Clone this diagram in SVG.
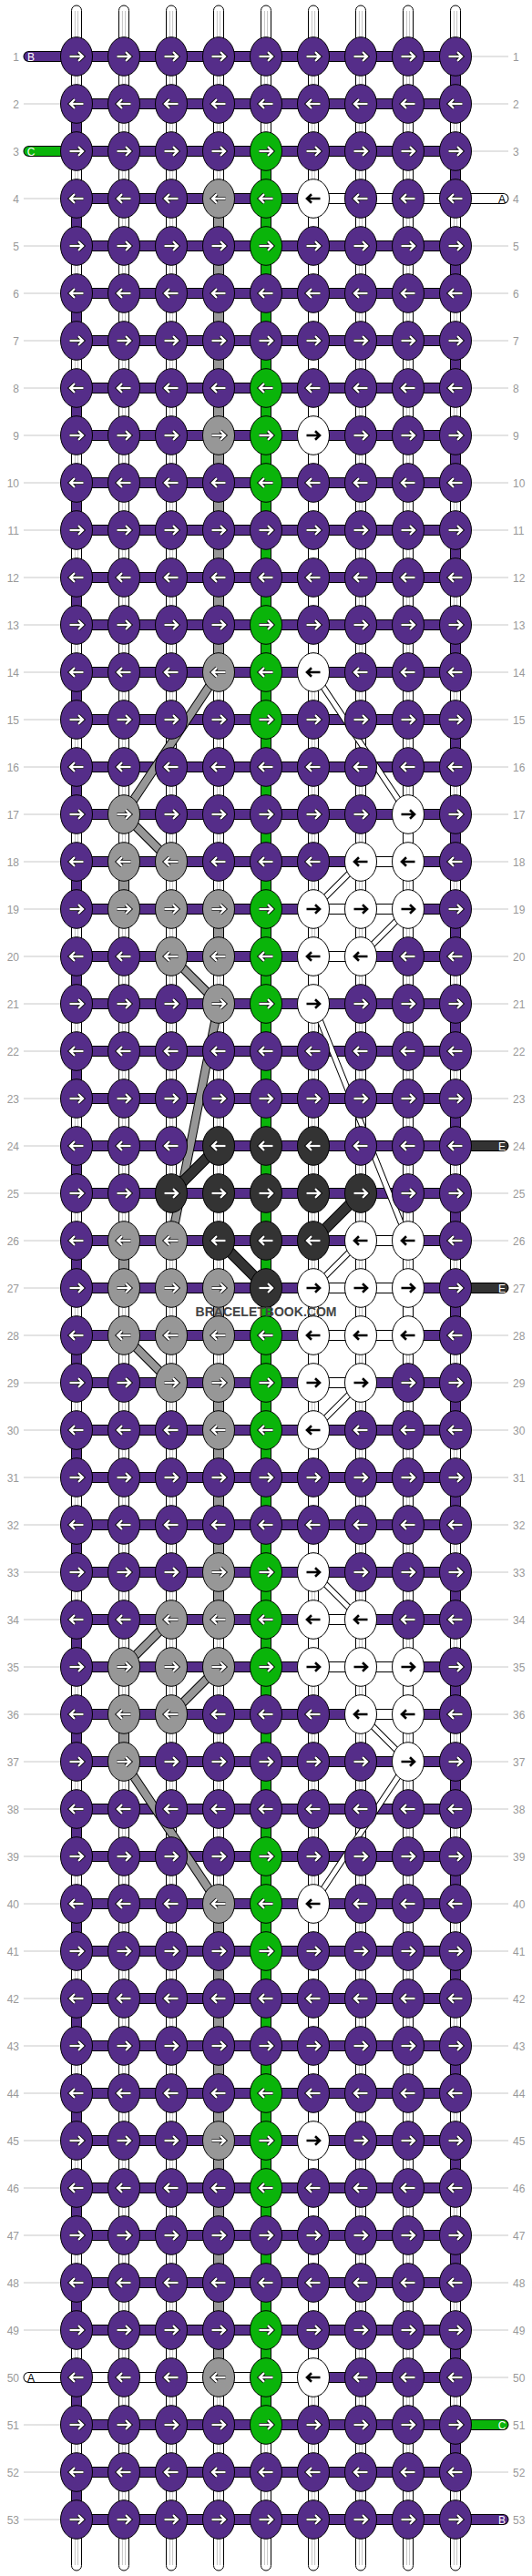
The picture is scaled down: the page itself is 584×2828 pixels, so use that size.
<svg xmlns="http://www.w3.org/2000/svg" xmlns:xlink="http://www.w3.org/1999/xlink" width="584" height="2828" viewBox="0 0 584 2828">
<style>
.lb{font-family:"Liberation Sans",Arial,sans-serif;font-size:12px;fill:#999}
.tl{font-family:"Liberation Sans",Arial,sans-serif;font-size:12px;text-anchor:middle}
.o12{fill:none;stroke:#000;stroke-width:12}
.o12r{fill:none;stroke:#000;stroke-width:12;stroke-linecap:round}
.pu{fill:none;stroke:#552d89;stroke-width:10}
.gn{fill:none;stroke:#0ab40a;stroke-width:10}
.gy{fill:none;stroke:#979797;stroke-width:10}
.wh{fill:none;stroke:#fff;stroke-width:10}
.dk{fill:none;stroke:#333;stroke-width:10}
.rc{stroke-linecap:round}
</style>
<defs>
<path id="a" d="M-7.5,0H6.5M2,-4.8L7,0L2,4.8" fill="none"/>
<g id="aw"><use href="#a" stroke="#000" stroke-width="4.2"/><use href="#a" stroke="#fff" stroke-width="2.4"/></g>
<g id="ab"><use href="#a" stroke="#000" stroke-width="2.6"/></g>
<ellipse id="e" rx="17.5" ry="21.3" stroke="#000" stroke-width="1"/>
<g id="PR"><use href="#e" fill="#552d89"/><use href="#aw"/></g>
<g id="PL"><use href="#e" fill="#552d89"/><use href="#aw" transform="scale(-1,1)"/></g>
<g id="GR"><use href="#e" fill="#0ab40a"/><use href="#aw"/></g>
<g id="GL"><use href="#e" fill="#0ab40a"/><use href="#aw" transform="scale(-1,1)"/></g>
<g id="YR"><use href="#e" fill="#979797"/><use href="#aw"/></g>
<g id="YL"><use href="#e" fill="#979797"/><use href="#aw" transform="scale(-1,1)"/></g>
<g id="DR"><use href="#e" fill="#333"/><use href="#aw"/></g>
<g id="DL"><use href="#e" fill="#333"/><use href="#aw" transform="scale(-1,1)"/></g>
<g id="WR"><use href="#e" fill="#fff"/><use href="#ab"/></g>
<g id="WL"><use href="#e" fill="#fff"/><use href="#ab" transform="scale(-1,1)"/></g>
<g id="tube"><rect x="-5.5" y="6" width="11" height="2816" rx="5.5" fill="#fff" stroke="#000"/><path d="M-1.6 12V2816M1.6 12V2816" stroke="#c4c4c4"/></g>
<path id="bands" d="M84 62h416m-416 52h416m-416 52h416m-416 52h416m-416 52h416m-416 52h416m-416 52h416m-416 52h416m-416 52h416m-416 52h416m-416 52h416m-416 52h416m-416 52h416m-416 52h416m-416 52h416m-416 52h416m-416 52h416m-416 52h416m-416 52h416m-416 52h416m-416 52h416m-416 52h416m-416 52h416m-416 52h416m-416 52h416m-416 52h416m-416 52h416m-416 52h416m-416 52h416m-416 52h416m-416 52h416m-416 52h416m-416 52h416m-416 52h416m-416 52h416m-416 52h416m-416 52h416m-416 52h416m-416 52h416m-416 52h416m-416 52h416m-416 52h416m-416 52h416m-416 52h416m-416 52h416m-416 52h416m-416 52h416m-416 52h416m-416 52h416m-416 52h416m-416 52h416m-416 52h416m-416 52h416"/>
</defs>
<rect width="584" height="2828" fill="#fff"/>
<g id="labels">
<path fill="none" stroke="#c8c8c8" d="M26 114H67M26 218H67M26 270H67M26 322H67M26 374H67M26 426H67M26 478H67M26 530H67M26 582H67M26 634H67M26 686H67M26 738H67M26 790H67M26 842H67M26 894H67M26 946H67M26 998H67M26 1050H67M26 1102H67M26 1154H67M26 1206H67M26 1258H67M26 1310H67M26 1362H67M26 1414H67M26 1466H67M26 1518H67M26 1570H67M26 1622H67M26 1674H67M26 1726H67M26 1778H67M26 1830H67M26 1882H67M26 1934H67M26 1986H67M26 2038H67M26 2090H67M26 2142H67M26 2194H67M26 2246H67M26 2298H67M26 2350H67M26 2402H67M26 2454H67M26 2506H67M26 2558H67M26 2662H67M26 2714H67M26 2766H67M517 62H558M517 114H558M517 166H558M517 270H558M517 322H558M517 374H558M517 426H558M517 478H558M517 530H558M517 582H558M517 634H558M517 686H558M517 738H558M517 790H558M517 842H558M517 894H558M517 946H558M517 998H558M517 1050H558M517 1102H558M517 1154H558M517 1206H558M517 1310H558M517 1362H558M517 1466H558M517 1518H558M517 1570H558M517 1622H558M517 1674H558M517 1726H558M517 1778H558M517 1830H558M517 1882H558M517 1934H558M517 1986H558M517 2038H558M517 2090H558M517 2142H558M517 2194H558M517 2246H558M517 2298H558M517 2350H558M517 2402H558M517 2454H558M517 2506H558M517 2558H558M517 2610H558M517 2714H558"/>
<g class="lb" text-anchor="end">
<text x="21" y="66.5">1</text><text x="21" y="118.5">2</text><text x="21" y="170.5">3</text><text x="21" y="222.5">4</text><text x="21" y="274.5">5</text><text x="21" y="326.5">6</text><text x="21" y="378.5">7</text><text x="21" y="430.5">8</text><text x="21" y="482.5">9</text><text x="21" y="534.5">10</text><text x="21" y="586.5">11</text><text x="21" y="638.5">12</text><text x="21" y="690.5">13</text><text x="21" y="742.5">14</text><text x="21" y="794.5">15</text><text x="21" y="846.5">16</text><text x="21" y="898.5">17</text><text x="21" y="950.5">18</text><text x="21" y="1002.5">19</text><text x="21" y="1054.5">20</text><text x="21" y="1106.5">21</text><text x="21" y="1158.5">22</text><text x="21" y="1210.5">23</text><text x="21" y="1262.5">24</text><text x="21" y="1314.5">25</text><text x="21" y="1366.5">26</text><text x="21" y="1418.5">27</text><text x="21" y="1470.5">28</text><text x="21" y="1522.5">29</text><text x="21" y="1574.5">30</text><text x="21" y="1626.5">31</text><text x="21" y="1678.5">32</text><text x="21" y="1730.5">33</text><text x="21" y="1782.5">34</text><text x="21" y="1834.5">35</text><text x="21" y="1886.5">36</text><text x="21" y="1938.5">37</text><text x="21" y="1990.5">38</text><text x="21" y="2042.5">39</text><text x="21" y="2094.5">40</text><text x="21" y="2146.5">41</text><text x="21" y="2198.5">42</text><text x="21" y="2250.5">43</text><text x="21" y="2302.5">44</text><text x="21" y="2354.5">45</text><text x="21" y="2406.5">46</text><text x="21" y="2458.5">47</text><text x="21" y="2510.5">48</text><text x="21" y="2562.5">49</text><text x="21" y="2614.5">50</text><text x="21" y="2666.5">51</text><text x="21" y="2718.5">52</text><text x="21" y="2770.5">53</text>
</g>
<g class="lb">
<text x="563" y="66.5">1</text><text x="563" y="118.5">2</text><text x="563" y="170.5">3</text><text x="563" y="222.5">4</text><text x="563" y="274.5">5</text><text x="563" y="326.5">6</text><text x="563" y="378.5">7</text><text x="563" y="430.5">8</text><text x="563" y="482.5">9</text><text x="563" y="534.5">10</text><text x="563" y="586.5">11</text><text x="563" y="638.5">12</text><text x="563" y="690.5">13</text><text x="563" y="742.5">14</text><text x="563" y="794.5">15</text><text x="563" y="846.5">16</text><text x="563" y="898.5">17</text><text x="563" y="950.5">18</text><text x="563" y="1002.5">19</text><text x="563" y="1054.5">20</text><text x="563" y="1106.5">21</text><text x="563" y="1158.5">22</text><text x="563" y="1210.5">23</text><text x="563" y="1262.5">24</text><text x="563" y="1314.5">25</text><text x="563" y="1366.5">26</text><text x="563" y="1418.5">27</text><text x="563" y="1470.5">28</text><text x="563" y="1522.5">29</text><text x="563" y="1574.5">30</text><text x="563" y="1626.5">31</text><text x="563" y="1678.5">32</text><text x="563" y="1730.5">33</text><text x="563" y="1782.5">34</text><text x="563" y="1834.5">35</text><text x="563" y="1886.5">36</text><text x="563" y="1938.5">37</text><text x="563" y="1990.5">38</text><text x="563" y="2042.5">39</text><text x="563" y="2094.5">40</text><text x="563" y="2146.5">41</text><text x="563" y="2198.5">42</text><text x="563" y="2250.5">43</text><text x="563" y="2302.5">44</text><text x="563" y="2354.5">45</text><text x="563" y="2406.5">46</text><text x="563" y="2458.5">47</text><text x="563" y="2510.5">48</text><text x="563" y="2562.5">49</text><text x="563" y="2614.5">50</text><text x="563" y="2666.5">51</text><text x="563" y="2718.5">52</text><text x="563" y="2770.5">53</text>
</g>
</g>
<g id="strands">
<use href="#tube" x="84"/><use href="#tube" x="136"/><use href="#tube" x="188"/><use href="#tube" x="240"/><use href="#tube" x="292"/><use href="#tube" x="344"/><use href="#tube" x="396"/><use href="#tube" x="448"/><use href="#tube" x="500"/>
<path class="o12" stroke-dasharray="52 52" d="M500 62V2714"/><path class="pu" stroke-dasharray="52 52" d="M500 62V2714"/>
<path class="o12" stroke-dasharray="52 52" d="M84 114V2766"/><path class="pu" stroke-dasharray="52 52" d="M84 114V2766"/>
<path id="vg" class="o12" d="M292 166V2662"/><path class="gn" d="M292 166V2662"/>
<path class="o12" d="M240 218V738M136 946V998M240 998V1050M136 1362V1414M240 1414V1466M240 1518V1778M136 1882V1934M240 2090V2610"/>
<path class="gy" d="M240 218V738M136 946V998M240 998V1050M136 1362V1414M240 1414V1466M240 1518V1778M136 1882V1934M240 2090V2610"/>
<path class="o12" d="M344 218V738M448 894V946M344 1050V1102M448 1414V1466M344 1466V1518M344 1570V1726M344 1778V1830M448 1830V1882M344 2090V2610"/>
<path class="wh" d="M344 218V738M448 894V946M344 1050V1102M448 1414V1466M344 1466V1518M344 1570V1726M344 1778V1830M448 1830V1882M344 2090V2610"/>
<use href="#bands" class="o12"/><use href="#bands" class="pu"/>
<path class="o12r" d="M31.5 62H84M31.5 166H84M500 2766H552.5M500 2662H552.5M500 1258H552.5M500 1414H552.5M344 218H552.5M31.5 2610H344"/>
<path class="pu rc" d="M31.5 62H84M500 2766H552.5"/>
<path class="gn rc" d="M31.5 166H84M500 2662H552.5"/>
<path class="dk rc" d="M500 1258H552.5M500 1414H552.5"/>
<path class="wh rc" d="M344 218H552.5M31.5 2610H344"/>
<path class="o12" d="M396 946H448M344 998H448M344 1050H396M396 1362H448M344 1414H448M344 1466H448M344 1518H396M344 1778H396M344 1830H448M396 1882H448"/>
<path class="wh" d="M396 946H448M344 998H448M344 1050H396M396 1362H448M344 1414H448M344 1466H448M344 1518H396M344 1778H396M344 1830H448M396 1882H448"/>
</g>
<g id="connectors">
<path fill="none" stroke="#000" stroke-width="10" d="M240 738L136 894L188 946M188 1050L240 1102L188 1362M136 1466L188 1518M188 1778L136 1830M240 1830L188 1882M136 1934L240 2090"/>
<path fill="none" stroke="#979797" stroke-width="8" d="M240 738L136 894L188 946M188 1050L240 1102L188 1362M136 1466L188 1518M188 1778L136 1830M240 1830L188 1882M136 1934L240 2090"/>
<path fill="none" stroke="#000" stroke-width="7" d="M344 738L448 894M396 946L344 998M448 998L396 1050M344 1102L448 1362M396 1362L344 1414M396 1518L344 1570M344 1726L396 1778M396 1882L448 1934L344 2090"/>
<path fill="none" stroke="#fff" stroke-width="5" d="M344 738L448 894M396 946L344 998M448 998L396 1050M344 1102L448 1362M396 1362L344 1414M396 1518L344 1570M344 1726L396 1778M396 1882L448 1934L344 2090"/>
<path fill="none" stroke="#000" stroke-width="12" d="M240 1258L188 1310M396 1310L344 1362M240 1362L292 1414"/>
<path fill="none" stroke="#333" stroke-width="10" d="M240 1258L188 1310M396 1310L344 1362M240 1362L292 1414"/>
</g>
<g id="knots">
<g id="row1" transform="translate(0,62)"><use id="k1-1" href="#PR" x="84"/><use id="k1-2" href="#PR" x="136"/><use id="k1-3" href="#PR" x="188"/><use id="k1-4" href="#PR" x="240"/><use id="k1-5" href="#PR" x="292"/><use id="k1-6" href="#PR" x="344"/><use id="k1-7" href="#PR" x="396"/><use id="k1-8" href="#PR" x="448"/><use id="k1-9" href="#PR" x="500"/></g>
<g id="row2" transform="translate(0,114)"><use id="k2-1" href="#PL" x="84"/><use id="k2-2" href="#PL" x="136"/><use id="k2-3" href="#PL" x="188"/><use id="k2-4" href="#PL" x="240"/><use id="k2-5" href="#PL" x="292"/><use id="k2-6" href="#PL" x="344"/><use id="k2-7" href="#PL" x="396"/><use id="k2-8" href="#PL" x="448"/><use id="k2-9" href="#PL" x="500"/></g>
<g id="row3" transform="translate(0,166)"><use id="k3-1" href="#PR" x="84"/><use id="k3-2" href="#PR" x="136"/><use id="k3-3" href="#PR" x="188"/><use id="k3-4" href="#PR" x="240"/><use id="k3-5" href="#GR" x="292"/><use id="k3-6" href="#PR" x="344"/><use id="k3-7" href="#PR" x="396"/><use id="k3-8" href="#PR" x="448"/><use id="k3-9" href="#PR" x="500"/></g>
<g id="row4" transform="translate(0,218)"><use id="k4-1" href="#PL" x="84"/><use id="k4-2" href="#PL" x="136"/><use id="k4-3" href="#PL" x="188"/><use id="k4-4" href="#YL" x="240"/><use id="k4-5" href="#GL" x="292"/><use id="k4-6" href="#WL" x="344"/><use id="k4-7" href="#PL" x="396"/><use id="k4-8" href="#PL" x="448"/><use id="k4-9" href="#PL" x="500"/></g>
<g id="row5" transform="translate(0,270)"><use id="k5-1" href="#PR" x="84"/><use id="k5-2" href="#PR" x="136"/><use id="k5-3" href="#PR" x="188"/><use id="k5-4" href="#PR" x="240"/><use id="k5-5" href="#GR" x="292"/><use id="k5-6" href="#PR" x="344"/><use id="k5-7" href="#PR" x="396"/><use id="k5-8" href="#PR" x="448"/><use id="k5-9" href="#PR" x="500"/></g>
<g id="row6" transform="translate(0,322)"><use id="k6-1" href="#PL" x="84"/><use id="k6-2" href="#PL" x="136"/><use id="k6-3" href="#PL" x="188"/><use id="k6-4" href="#PL" x="240"/><use id="k6-5" href="#PL" x="292"/><use id="k6-6" href="#PL" x="344"/><use id="k6-7" href="#PL" x="396"/><use id="k6-8" href="#PL" x="448"/><use id="k6-9" href="#PL" x="500"/></g>
<g id="row7" transform="translate(0,374)"><use id="k7-1" href="#PR" x="84"/><use id="k7-2" href="#PR" x="136"/><use id="k7-3" href="#PR" x="188"/><use id="k7-4" href="#PR" x="240"/><use id="k7-5" href="#PR" x="292"/><use id="k7-6" href="#PR" x="344"/><use id="k7-7" href="#PR" x="396"/><use id="k7-8" href="#PR" x="448"/><use id="k7-9" href="#PR" x="500"/></g>
<g id="row8" transform="translate(0,426)"><use id="k8-1" href="#PL" x="84"/><use id="k8-2" href="#PL" x="136"/><use id="k8-3" href="#PL" x="188"/><use id="k8-4" href="#PL" x="240"/><use id="k8-5" href="#GL" x="292"/><use id="k8-6" href="#PL" x="344"/><use id="k8-7" href="#PL" x="396"/><use id="k8-8" href="#PL" x="448"/><use id="k8-9" href="#PL" x="500"/></g>
<g id="row9" transform="translate(0,478)"><use id="k9-1" href="#PR" x="84"/><use id="k9-2" href="#PR" x="136"/><use id="k9-3" href="#PR" x="188"/><use id="k9-4" href="#YR" x="240"/><use id="k9-5" href="#GR" x="292"/><use id="k9-6" href="#WR" x="344"/><use id="k9-7" href="#PR" x="396"/><use id="k9-8" href="#PR" x="448"/><use id="k9-9" href="#PR" x="500"/></g>
<g id="row10" transform="translate(0,530)"><use id="k10-1" href="#PL" x="84"/><use id="k10-2" href="#PL" x="136"/><use id="k10-3" href="#PL" x="188"/><use id="k10-4" href="#PL" x="240"/><use id="k10-5" href="#GL" x="292"/><use id="k10-6" href="#PL" x="344"/><use id="k10-7" href="#PL" x="396"/><use id="k10-8" href="#PL" x="448"/><use id="k10-9" href="#PL" x="500"/></g>
<g id="row11" transform="translate(0,582)"><use id="k11-1" href="#PR" x="84"/><use id="k11-2" href="#PR" x="136"/><use id="k11-3" href="#PR" x="188"/><use id="k11-4" href="#PR" x="240"/><use id="k11-5" href="#PR" x="292"/><use id="k11-6" href="#PR" x="344"/><use id="k11-7" href="#PR" x="396"/><use id="k11-8" href="#PR" x="448"/><use id="k11-9" href="#PR" x="500"/></g>
<g id="row12" transform="translate(0,634)"><use id="k12-1" href="#PL" x="84"/><use id="k12-2" href="#PL" x="136"/><use id="k12-3" href="#PL" x="188"/><use id="k12-4" href="#PL" x="240"/><use id="k12-5" href="#PL" x="292"/><use id="k12-6" href="#PL" x="344"/><use id="k12-7" href="#PL" x="396"/><use id="k12-8" href="#PL" x="448"/><use id="k12-9" href="#PL" x="500"/></g>
<g id="row13" transform="translate(0,686)"><use id="k13-1" href="#PR" x="84"/><use id="k13-2" href="#PR" x="136"/><use id="k13-3" href="#PR" x="188"/><use id="k13-4" href="#PR" x="240"/><use id="k13-5" href="#GR" x="292"/><use id="k13-6" href="#PR" x="344"/><use id="k13-7" href="#PR" x="396"/><use id="k13-8" href="#PR" x="448"/><use id="k13-9" href="#PR" x="500"/></g>
<g id="row14" transform="translate(0,738)"><use id="k14-1" href="#PL" x="84"/><use id="k14-2" href="#PL" x="136"/><use id="k14-3" href="#PL" x="188"/><use id="k14-4" href="#YL" x="240"/><use id="k14-5" href="#GL" x="292"/><use id="k14-6" href="#WL" x="344"/><use id="k14-7" href="#PL" x="396"/><use id="k14-8" href="#PL" x="448"/><use id="k14-9" href="#PL" x="500"/></g>
<g id="row15" transform="translate(0,790)"><use id="k15-1" href="#PR" x="84"/><use id="k15-2" href="#PR" x="136"/><use id="k15-3" href="#PR" x="188"/><use id="k15-4" href="#PR" x="240"/><use id="k15-5" href="#GR" x="292"/><use id="k15-6" href="#PR" x="344"/><use id="k15-7" href="#PR" x="396"/><use id="k15-8" href="#PR" x="448"/><use id="k15-9" href="#PR" x="500"/></g>
<g id="row16" transform="translate(0,842)"><use id="k16-1" href="#PL" x="84"/><use id="k16-2" href="#PL" x="136"/><use id="k16-3" href="#PL" x="188"/><use id="k16-4" href="#PL" x="240"/><use id="k16-5" href="#PL" x="292"/><use id="k16-6" href="#PL" x="344"/><use id="k16-7" href="#PL" x="396"/><use id="k16-8" href="#PL" x="448"/><use id="k16-9" href="#PL" x="500"/></g>
<g id="row17" transform="translate(0,894)"><use id="k17-1" href="#PR" x="84"/><use id="k17-2" href="#YR" x="136"/><use id="k17-3" href="#PR" x="188"/><use id="k17-4" href="#PR" x="240"/><use id="k17-5" href="#PR" x="292"/><use id="k17-6" href="#PR" x="344"/><use id="k17-7" href="#PR" x="396"/><use id="k17-8" href="#WR" x="448"/><use id="k17-9" href="#PR" x="500"/></g>
<g id="row18" transform="translate(0,946)"><use id="k18-1" href="#PL" x="84"/><use id="k18-2" href="#YL" x="136"/><use id="k18-3" href="#YL" x="188"/><use id="k18-4" href="#PL" x="240"/><use id="k18-5" href="#PL" x="292"/><use id="k18-6" href="#PL" x="344"/><use id="k18-7" href="#WL" x="396"/><use id="k18-8" href="#WL" x="448"/><use id="k18-9" href="#PL" x="500"/></g>
<g id="row19" transform="translate(0,998)"><use id="k19-1" href="#PR" x="84"/><use id="k19-2" href="#YR" x="136"/><use id="k19-3" href="#YR" x="188"/><use id="k19-4" href="#YR" x="240"/><use id="k19-5" href="#GR" x="292"/><use id="k19-6" href="#WR" x="344"/><use id="k19-7" href="#WR" x="396"/><use id="k19-8" href="#WR" x="448"/><use id="k19-9" href="#PR" x="500"/></g>
<g id="row20" transform="translate(0,1050)"><use id="k20-1" href="#PL" x="84"/><use id="k20-2" href="#PL" x="136"/><use id="k20-3" href="#YL" x="188"/><use id="k20-4" href="#YL" x="240"/><use id="k20-5" href="#GL" x="292"/><use id="k20-6" href="#WL" x="344"/><use id="k20-7" href="#WL" x="396"/><use id="k20-8" href="#PL" x="448"/><use id="k20-9" href="#PL" x="500"/></g>
<g id="row21" transform="translate(0,1102)"><use id="k21-1" href="#PR" x="84"/><use id="k21-2" href="#PR" x="136"/><use id="k21-3" href="#PR" x="188"/><use id="k21-4" href="#YR" x="240"/><use id="k21-5" href="#GR" x="292"/><use id="k21-6" href="#WR" x="344"/><use id="k21-7" href="#PR" x="396"/><use id="k21-8" href="#PR" x="448"/><use id="k21-9" href="#PR" x="500"/></g>
<g id="row22" transform="translate(0,1154)"><use id="k22-1" href="#PL" x="84"/><use id="k22-2" href="#PL" x="136"/><use id="k22-3" href="#PL" x="188"/><use id="k22-4" href="#PL" x="240"/><use id="k22-5" href="#PL" x="292"/><use id="k22-6" href="#PL" x="344"/><use id="k22-7" href="#PL" x="396"/><use id="k22-8" href="#PL" x="448"/><use id="k22-9" href="#PL" x="500"/></g>
<g id="row23" transform="translate(0,1206)"><use id="k23-1" href="#PR" x="84"/><use id="k23-2" href="#PR" x="136"/><use id="k23-3" href="#PR" x="188"/><use id="k23-4" href="#PR" x="240"/><use id="k23-5" href="#PR" x="292"/><use id="k23-6" href="#PR" x="344"/><use id="k23-7" href="#PR" x="396"/><use id="k23-8" href="#PR" x="448"/><use id="k23-9" href="#PR" x="500"/></g>
<g id="row24" transform="translate(0,1258)"><use id="k24-1" href="#PL" x="84"/><use id="k24-2" href="#PL" x="136"/><use id="k24-3" href="#PL" x="188"/><use id="k24-4" href="#DL" x="240"/><use id="k24-5" href="#DL" x="292"/><use id="k24-6" href="#DL" x="344"/><use id="k24-7" href="#PL" x="396"/><use id="k24-8" href="#PL" x="448"/><use id="k24-9" href="#PL" x="500"/></g>
<g id="row25" transform="translate(0,1310)"><use id="k25-1" href="#PR" x="84"/><use id="k25-2" href="#PR" x="136"/><use id="k25-3" href="#DR" x="188"/><use id="k25-4" href="#DR" x="240"/><use id="k25-5" href="#DR" x="292"/><use id="k25-6" href="#DR" x="344"/><use id="k25-7" href="#DR" x="396"/><use id="k25-8" href="#PR" x="448"/><use id="k25-9" href="#PR" x="500"/></g>
<g id="row26" transform="translate(0,1362)"><use id="k26-1" href="#PL" x="84"/><use id="k26-2" href="#YL" x="136"/><use id="k26-3" href="#YL" x="188"/><use id="k26-4" href="#DL" x="240"/><use id="k26-5" href="#DL" x="292"/><use id="k26-6" href="#DL" x="344"/><use id="k26-7" href="#WL" x="396"/><use id="k26-8" href="#WL" x="448"/><use id="k26-9" href="#PL" x="500"/></g>
<g id="row27" transform="translate(0,1414)"><use id="k27-1" href="#PR" x="84"/><use id="k27-2" href="#YR" x="136"/><use id="k27-3" href="#YR" x="188"/><use id="k27-4" href="#YR" x="240"/><use id="k27-5" href="#DR" x="292"/><use id="k27-6" href="#WR" x="344"/><use id="k27-7" href="#WR" x="396"/><use id="k27-8" href="#WR" x="448"/><use id="k27-9" href="#PR" x="500"/></g>
<g id="row28" transform="translate(0,1466)"><use id="k28-1" href="#PL" x="84"/><use id="k28-2" href="#YL" x="136"/><use id="k28-3" href="#YL" x="188"/><use id="k28-4" href="#YL" x="240"/><use id="k28-5" href="#GL" x="292"/><use id="k28-6" href="#WL" x="344"/><use id="k28-7" href="#WL" x="396"/><use id="k28-8" href="#WL" x="448"/><use id="k28-9" href="#PL" x="500"/></g>
<g id="row29" transform="translate(0,1518)"><use id="k29-1" href="#PR" x="84"/><use id="k29-2" href="#PR" x="136"/><use id="k29-3" href="#YR" x="188"/><use id="k29-4" href="#YR" x="240"/><use id="k29-5" href="#GR" x="292"/><use id="k29-6" href="#WR" x="344"/><use id="k29-7" href="#WR" x="396"/><use id="k29-8" href="#PR" x="448"/><use id="k29-9" href="#PR" x="500"/></g>
<g id="row30" transform="translate(0,1570)"><use id="k30-1" href="#PL" x="84"/><use id="k30-2" href="#PL" x="136"/><use id="k30-3" href="#PL" x="188"/><use id="k30-4" href="#YL" x="240"/><use id="k30-5" href="#GL" x="292"/><use id="k30-6" href="#WL" x="344"/><use id="k30-7" href="#PL" x="396"/><use id="k30-8" href="#PL" x="448"/><use id="k30-9" href="#PL" x="500"/></g>
<g id="row31" transform="translate(0,1622)"><use id="k31-1" href="#PR" x="84"/><use id="k31-2" href="#PR" x="136"/><use id="k31-3" href="#PR" x="188"/><use id="k31-4" href="#PR" x="240"/><use id="k31-5" href="#PR" x="292"/><use id="k31-6" href="#PR" x="344"/><use id="k31-7" href="#PR" x="396"/><use id="k31-8" href="#PR" x="448"/><use id="k31-9" href="#PR" x="500"/></g>
<g id="row32" transform="translate(0,1674)"><use id="k32-1" href="#PL" x="84"/><use id="k32-2" href="#PL" x="136"/><use id="k32-3" href="#PL" x="188"/><use id="k32-4" href="#PL" x="240"/><use id="k32-5" href="#PL" x="292"/><use id="k32-6" href="#PL" x="344"/><use id="k32-7" href="#PL" x="396"/><use id="k32-8" href="#PL" x="448"/><use id="k32-9" href="#PL" x="500"/></g>
<g id="row33" transform="translate(0,1726)"><use id="k33-1" href="#PR" x="84"/><use id="k33-2" href="#PR" x="136"/><use id="k33-3" href="#PR" x="188"/><use id="k33-4" href="#YR" x="240"/><use id="k33-5" href="#GR" x="292"/><use id="k33-6" href="#WR" x="344"/><use id="k33-7" href="#PR" x="396"/><use id="k33-8" href="#PR" x="448"/><use id="k33-9" href="#PR" x="500"/></g>
<g id="row34" transform="translate(0,1778)"><use id="k34-1" href="#PL" x="84"/><use id="k34-2" href="#PL" x="136"/><use id="k34-3" href="#YL" x="188"/><use id="k34-4" href="#YL" x="240"/><use id="k34-5" href="#GL" x="292"/><use id="k34-6" href="#WL" x="344"/><use id="k34-7" href="#WL" x="396"/><use id="k34-8" href="#PL" x="448"/><use id="k34-9" href="#PL" x="500"/></g>
<g id="row35" transform="translate(0,1830)"><use id="k35-1" href="#PR" x="84"/><use id="k35-2" href="#YR" x="136"/><use id="k35-3" href="#YR" x="188"/><use id="k35-4" href="#YR" x="240"/><use id="k35-5" href="#GR" x="292"/><use id="k35-6" href="#WR" x="344"/><use id="k35-7" href="#WR" x="396"/><use id="k35-8" href="#WR" x="448"/><use id="k35-9" href="#PR" x="500"/></g>
<g id="row36" transform="translate(0,1882)"><use id="k36-1" href="#PL" x="84"/><use id="k36-2" href="#YL" x="136"/><use id="k36-3" href="#YL" x="188"/><use id="k36-4" href="#PL" x="240"/><use id="k36-5" href="#PL" x="292"/><use id="k36-6" href="#PL" x="344"/><use id="k36-7" href="#WL" x="396"/><use id="k36-8" href="#WL" x="448"/><use id="k36-9" href="#PL" x="500"/></g>
<g id="row37" transform="translate(0,1934)"><use id="k37-1" href="#PR" x="84"/><use id="k37-2" href="#YR" x="136"/><use id="k37-3" href="#PR" x="188"/><use id="k37-4" href="#PR" x="240"/><use id="k37-5" href="#PR" x="292"/><use id="k37-6" href="#PR" x="344"/><use id="k37-7" href="#PR" x="396"/><use id="k37-8" href="#WR" x="448"/><use id="k37-9" href="#PR" x="500"/></g>
<g id="row38" transform="translate(0,1986)"><use id="k38-1" href="#PL" x="84"/><use id="k38-2" href="#PL" x="136"/><use id="k38-3" href="#PL" x="188"/><use id="k38-4" href="#PL" x="240"/><use id="k38-5" href="#PL" x="292"/><use id="k38-6" href="#PL" x="344"/><use id="k38-7" href="#PL" x="396"/><use id="k38-8" href="#PL" x="448"/><use id="k38-9" href="#PL" x="500"/></g>
<g id="row39" transform="translate(0,2038)"><use id="k39-1" href="#PR" x="84"/><use id="k39-2" href="#PR" x="136"/><use id="k39-3" href="#PR" x="188"/><use id="k39-4" href="#PR" x="240"/><use id="k39-5" href="#GR" x="292"/><use id="k39-6" href="#PR" x="344"/><use id="k39-7" href="#PR" x="396"/><use id="k39-8" href="#PR" x="448"/><use id="k39-9" href="#PR" x="500"/></g>
<g id="row40" transform="translate(0,2090)"><use id="k40-1" href="#PL" x="84"/><use id="k40-2" href="#PL" x="136"/><use id="k40-3" href="#PL" x="188"/><use id="k40-4" href="#YL" x="240"/><use id="k40-5" href="#GL" x="292"/><use id="k40-6" href="#WL" x="344"/><use id="k40-7" href="#PL" x="396"/><use id="k40-8" href="#PL" x="448"/><use id="k40-9" href="#PL" x="500"/></g>
<g id="row41" transform="translate(0,2142)"><use id="k41-1" href="#PR" x="84"/><use id="k41-2" href="#PR" x="136"/><use id="k41-3" href="#PR" x="188"/><use id="k41-4" href="#PR" x="240"/><use id="k41-5" href="#GR" x="292"/><use id="k41-6" href="#PR" x="344"/><use id="k41-7" href="#PR" x="396"/><use id="k41-8" href="#PR" x="448"/><use id="k41-9" href="#PR" x="500"/></g>
<g id="row42" transform="translate(0,2194)"><use id="k42-1" href="#PL" x="84"/><use id="k42-2" href="#PL" x="136"/><use id="k42-3" href="#PL" x="188"/><use id="k42-4" href="#PL" x="240"/><use id="k42-5" href="#PL" x="292"/><use id="k42-6" href="#PL" x="344"/><use id="k42-7" href="#PL" x="396"/><use id="k42-8" href="#PL" x="448"/><use id="k42-9" href="#PL" x="500"/></g>
<g id="row43" transform="translate(0,2246)"><use id="k43-1" href="#PR" x="84"/><use id="k43-2" href="#PR" x="136"/><use id="k43-3" href="#PR" x="188"/><use id="k43-4" href="#PR" x="240"/><use id="k43-5" href="#PR" x="292"/><use id="k43-6" href="#PR" x="344"/><use id="k43-7" href="#PR" x="396"/><use id="k43-8" href="#PR" x="448"/><use id="k43-9" href="#PR" x="500"/></g>
<g id="row44" transform="translate(0,2298)"><use id="k44-1" href="#PL" x="84"/><use id="k44-2" href="#PL" x="136"/><use id="k44-3" href="#PL" x="188"/><use id="k44-4" href="#PL" x="240"/><use id="k44-5" href="#GL" x="292"/><use id="k44-6" href="#PL" x="344"/><use id="k44-7" href="#PL" x="396"/><use id="k44-8" href="#PL" x="448"/><use id="k44-9" href="#PL" x="500"/></g>
<g id="row45" transform="translate(0,2350)"><use id="k45-1" href="#PR" x="84"/><use id="k45-2" href="#PR" x="136"/><use id="k45-3" href="#PR" x="188"/><use id="k45-4" href="#YR" x="240"/><use id="k45-5" href="#GR" x="292"/><use id="k45-6" href="#WR" x="344"/><use id="k45-7" href="#PR" x="396"/><use id="k45-8" href="#PR" x="448"/><use id="k45-9" href="#PR" x="500"/></g>
<g id="row46" transform="translate(0,2402)"><use id="k46-1" href="#PL" x="84"/><use id="k46-2" href="#PL" x="136"/><use id="k46-3" href="#PL" x="188"/><use id="k46-4" href="#PL" x="240"/><use id="k46-5" href="#GL" x="292"/><use id="k46-6" href="#PL" x="344"/><use id="k46-7" href="#PL" x="396"/><use id="k46-8" href="#PL" x="448"/><use id="k46-9" href="#PL" x="500"/></g>
<g id="row47" transform="translate(0,2454)"><use id="k47-1" href="#PR" x="84"/><use id="k47-2" href="#PR" x="136"/><use id="k47-3" href="#PR" x="188"/><use id="k47-4" href="#PR" x="240"/><use id="k47-5" href="#PR" x="292"/><use id="k47-6" href="#PR" x="344"/><use id="k47-7" href="#PR" x="396"/><use id="k47-8" href="#PR" x="448"/><use id="k47-9" href="#PR" x="500"/></g>
<g id="row48" transform="translate(0,2506)"><use id="k48-1" href="#PL" x="84"/><use id="k48-2" href="#PL" x="136"/><use id="k48-3" href="#PL" x="188"/><use id="k48-4" href="#PL" x="240"/><use id="k48-5" href="#PL" x="292"/><use id="k48-6" href="#PL" x="344"/><use id="k48-7" href="#PL" x="396"/><use id="k48-8" href="#PL" x="448"/><use id="k48-9" href="#PL" x="500"/></g>
<g id="row49" transform="translate(0,2558)"><use id="k49-1" href="#PR" x="84"/><use id="k49-2" href="#PR" x="136"/><use id="k49-3" href="#PR" x="188"/><use id="k49-4" href="#PR" x="240"/><use id="k49-5" href="#GR" x="292"/><use id="k49-6" href="#PR" x="344"/><use id="k49-7" href="#PR" x="396"/><use id="k49-8" href="#PR" x="448"/><use id="k49-9" href="#PR" x="500"/></g>
<g id="row50" transform="translate(0,2610)"><use id="k50-1" href="#PL" x="84"/><use id="k50-2" href="#PL" x="136"/><use id="k50-3" href="#PL" x="188"/><use id="k50-4" href="#YL" x="240"/><use id="k50-5" href="#GL" x="292"/><use id="k50-6" href="#WL" x="344"/><use id="k50-7" href="#PL" x="396"/><use id="k50-8" href="#PL" x="448"/><use id="k50-9" href="#PL" x="500"/></g>
<g id="row51" transform="translate(0,2662)"><use id="k51-1" href="#PR" x="84"/><use id="k51-2" href="#PR" x="136"/><use id="k51-3" href="#PR" x="188"/><use id="k51-4" href="#PR" x="240"/><use id="k51-5" href="#GR" x="292"/><use id="k51-6" href="#PR" x="344"/><use id="k51-7" href="#PR" x="396"/><use id="k51-8" href="#PR" x="448"/><use id="k51-9" href="#PR" x="500"/></g>
<g id="row52" transform="translate(0,2714)"><use id="k52-1" href="#PL" x="84"/><use id="k52-2" href="#PL" x="136"/><use id="k52-3" href="#PL" x="188"/><use id="k52-4" href="#PL" x="240"/><use id="k52-5" href="#PL" x="292"/><use id="k52-6" href="#PL" x="344"/><use id="k52-7" href="#PL" x="396"/><use id="k52-8" href="#PL" x="448"/><use id="k52-9" href="#PL" x="500"/></g>
<g id="row53" transform="translate(0,2766)"><use id="k53-1" href="#PR" x="84"/><use id="k53-2" href="#PR" x="136"/><use id="k53-3" href="#PR" x="188"/><use id="k53-4" href="#PR" x="240"/><use id="k53-5" href="#PR" x="292"/><use id="k53-6" href="#PR" x="344"/><use id="k53-7" href="#PR" x="396"/><use id="k53-8" href="#PR" x="448"/><use id="k53-9" href="#PR" x="500"/></g>
</g>
<g id="tails" class="tl">
<text x="34" y="66.5" fill="#fff">B</text>
<text x="34" y="170.5" fill="#fff">C</text>
<text x="34" y="2614.5" fill="#000">A</text>
<text x="551" y="222.5" fill="#000">A</text>
<text x="551" y="1262.5" fill="#fff">E</text>
<text x="551" y="1418.5" fill="#fff">E</text>
<text x="551" y="2666.5" fill="#fff">C</text>
<text x="551" y="2770.5" fill="#fff">B</text>
</g>
<text id="watermark" x="292" y="1445" font-family="'Liberation Sans',Arial,sans-serif" font-weight="bold" font-size="15" fill="#444" text-anchor="middle" textLength="155" lengthAdjust="spacingAndGlyphs">BRACELETBOOK.COM</text>
</svg>
